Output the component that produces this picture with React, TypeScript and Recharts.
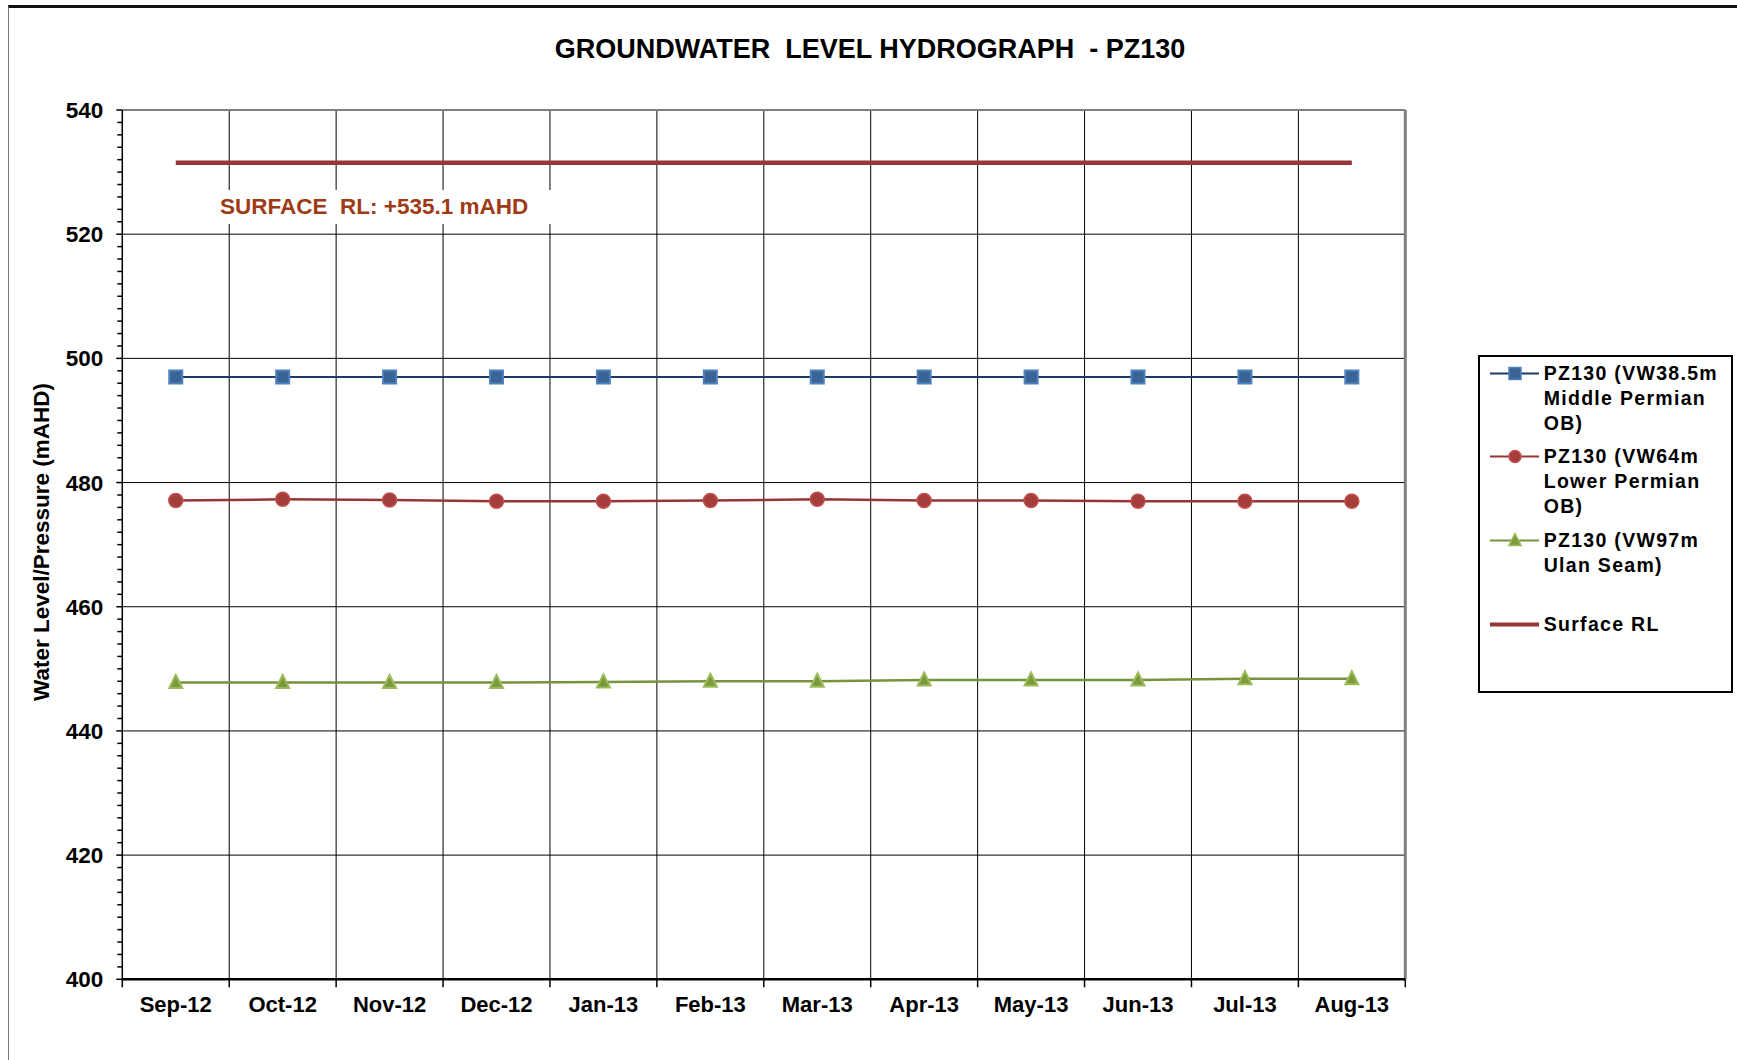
import React from 'react';
import { LineChart, Line, XAxis, YAxis, CartesianGrid, ReferenceLine, Legend } from 'recharts';

const FONT = '"Liberation Sans", Arial, Helvetica, sans-serif';

const months = ['Sep-12', 'Oct-12', 'Nov-12', 'Dec-12', 'Jan-13', 'Feb-13', 'Mar-13', 'Apr-13', 'May-13', 'Jun-13', 'Jul-13', 'Aug-13'];
const vw385 = [497.0, 497.0, 497.0, 497.0, 497.0, 497.0, 497.0, 497.0, 497.0, 497.0, 497.0, 497.0];
const vw64 = [477.1, 477.3, 477.2, 477.0, 477.0, 477.1, 477.3, 477.1, 477.1, 477.0, 477.0, 477.0];
const vw97 = [447.8, 447.8, 447.8, 447.8, 447.9, 448.0, 448.0, 448.2, 448.2, 448.2, 448.4, 448.4];
const surfaceRL = [531.5, 531.5, 531.5, 531.5, 531.5, 531.5, 531.5, 531.5, 531.5, 531.5, 531.5, 531.5];

const seriesNames = [
  'PZ130 (VW38.5m\nMiddle Permian\nOB)',
  'PZ130 (VW64m\nLower Permian\nOB)',
  'PZ130 (VW97m\nUlan Seam)',
  'Surface RL',
];

const yMinorTicks = Array.from({ length: 71 }, (_, i) => 400 + i * 2);
const yMajorGrid = [420, 440, 460, 480, 500, 520];
const xBoundaryGrid = [1, 2, 3, 4, 5, 6, 7, 8, 9, 10, 11];
const xTicks = Array.from({ length: 25 }, (_, i) => i * 0.5);

const data = months.map((m, i) => ({
  x: i + 0.5,
  month: m,
  vw385: vw385[i],
  vw64: vw64[i],
  vw97: vw97[i],
  surface: surfaceRL[i],
}));

const XTick = (props: any) => {
  const { x, y, payload } = props;
  const v = payload.value;
  if (Number.isInteger(v)) {
    return <line x1={x} x2={x} y1={y} y2={y + 8} stroke="#000" strokeWidth={1.5} />;
  }
  return (
    <text x={x} y={y + 33} textAnchor="middle" fontFamily={FONT} fontWeight="bold" fontSize={22} fill="#000">
      {months[Math.floor(v)]}
    </text>
  );
};

const YTick = (props: any) => {
  const { x, y, payload } = props;
  const v = payload.value;
  const major = v % 20 === 0;
  return (
    <g>
      <line x1={x - (major ? 6 : 5)} x2={x} y1={y} y2={y} stroke="#000" strokeWidth={1.5} />
      {major && (
        <text x={x - 19} y={y + 8} textAnchor="end" fontFamily={FONT} fontWeight="bold" fontSize={22.5} fill="#000">
          {v}
        </text>
      )}
    </g>
  );
};

const SquareDot = (props: any) => {
  const { cx, cy, index } = props;
  if (cx == null || cy == null) return null;
  return <rect key={`sq-${index}`} x={cx - 6.5} y={cy - 6.5} width={13} height={13} fill="#3A6496" stroke="#4F81BD" strokeWidth={2} />;
};
const CircleDot = (props: any) => {
  const { cx, cy, index } = props;
  if (cx == null || cy == null) return null;
  return <circle key={`ci-${index}`} cx={cx} cy={cy} r={7} fill="#A53E3B" stroke="#C0504D" strokeWidth={1.5} />;
};
const TriDot = (props: any) => {
  const { cx, cy, index } = props;
  if (cx == null || cy == null) return null;
  return (
    <polygon
      key={`tr-${index}`}
      points={`${cx},${cy - 7.5} ${cx + 6.5},${cy + 5.5} ${cx - 6.5},${cy + 5.5}`}
      fill="#7A9A3C"
      stroke="#9BBB59"
      strokeWidth={2}
    />
  );
};

const legendTops = [4, 87, 171, 255];

const LegendMarker = ({ dataKey, color }: { dataKey: string; color: string }) => {
  return (
    <svg width={54} height={25} style={{ display: 'block', flex: 'none' }}>
      <line x1={0} x2={49} y1={12.5} y2={12.5} stroke={color} strokeWidth={dataKey === 'surface' ? 4 : 2} />
      {dataKey === 'vw385' && <rect x={19} y={6.5} width={12} height={12} fill="#3A6496" stroke="#4F81BD" strokeWidth={1.5} />}
      {dataKey === 'vw64' && <circle cx={25} cy={12.5} r={6} fill="#A53E3B" stroke="#C0504D" strokeWidth={1.5} />}
      {dataKey === 'vw97' && <polygon points="25,5.5 31,17.5 19,17.5" fill="#7A9A3C" stroke="#9BBB59" strokeWidth={1.5} />}
    </svg>
  );
};

const renderLegend = (props: any) => {
  const payload = props.payload || [];
  return (
    <div
      style={{
        position: 'relative',
        width: 255,
        height: 338,
        border: '2px solid #000',
        boxSizing: 'border-box',
        background: '#fff',
        fontFamily: FONT,
      }}
    >
      {payload.map((entry: any, i: number) => (
        <div key={i} style={{ position: 'absolute', left: 10, top: legendTops[i], display: 'flex', alignItems: 'flex-start' }}>
          <LegendMarker dataKey={String(entry.dataKey)} color={entry.color} />
          <div style={{ whiteSpace: 'pre', fontSize: 19.5, fontWeight: 'bold', lineHeight: '25px', letterSpacing: 1.3, color: '#000' }}>
            {entry.value}
          </div>
        </div>
      ))}
    </div>
  );
};

export default function App() {
  return (
    <div style={{ position: 'absolute', left: 0, top: 0, width: 1737, height: 1060, background: '#fff', overflow: 'hidden' }}>
      <LineChart
        width={1737}
        height={1060}
        data={data}
        margin={{ top: 110, right: 331.7, bottom: 0.7, left: 62.3 }}
      >
        <CartesianGrid
          stroke="#000"
          strokeWidth={1}
          horizontalValues={yMajorGrid}
          verticalValues={xBoundaryGrid}
        />
        <XAxis
          dataKey="x"
          type="number"
          domain={[0, 12]}
          ticks={xTicks}
          interval={0}
          height={80}
          tickSize={0}
          tickMargin={0}
          tickLine={false}
          axisLine={{ stroke: '#000', strokeWidth: 2.5 }}
          tick={<XTick />}
        />
        <YAxis
          type="number"
          domain={[400, 540]}
          ticks={yMinorTicks}
          interval={0}
          width={60}
          tickSize={0}
          tickMargin={0}
          tickLine={false}
          axisLine={{ stroke: '#000', strokeWidth: 1.5 }}
          tick={<YTick />}
        />
        <ReferenceLine y={540} stroke="#808080" strokeWidth={2} />
        <ReferenceLine x={12} stroke="#808080" strokeWidth={3} />
        <Line
          dataKey="vw385"
          name={seriesNames[0]}
          stroke="#1F3A64"
          strokeWidth={2}
          dot={<SquareDot />}
          isAnimationActive={false}
        />
        <Line
          dataKey="vw64"
          name={seriesNames[1]}
          stroke="#953735"
          strokeWidth={2.5}
          dot={<CircleDot />}
          isAnimationActive={false}
        />
        <Line
          dataKey="vw97"
          name={seriesNames[2]}
          stroke="#77933C"
          strokeWidth={2.5}
          dot={<TriDot />}
          isAnimationActive={false}
        />
        <Line
          dataKey="surface"
          name={seriesNames[3]}
          stroke="#953735"
          strokeWidth={4.5}
          dot={false}
          isAnimationActive={false}
        />
        <Legend
          layout="vertical"
          align="center"
          verticalAlign="middle"
          content={renderLegend}
          wrapperStyle={{ position: 'absolute', left: 1477.7, top: 355, width: 255, height: 338 }}
        />
      </LineChart>

      <div
        style={{
          position: 'absolute',
          left: 8,
          top: 5,
          width: 1729,
          height: 1055,
          borderTop: '3px solid #111',
          borderLeft: '1.5px solid #777',
          boxSizing: 'border-box',
          pointerEvents: 'none',
        }}
      />

      <div
        style={{
          position: 'absolute',
          left: 0,
          top: 35.5,
          width: 1740,
          textAlign: 'center',
          fontFamily: FONT,
          fontWeight: 'bold',
          fontSize: 27,
          lineHeight: '27px',
          whiteSpace: 'pre',
          color: '#000',
        }}
      >
        {'GROUNDWATER  LEVEL HYDROGRAPH  - PZ130'}
      </div>

      <div
        style={{
          position: 'absolute',
          left: 42,
          top: 542,
          transform: 'translate(-50%, -50%) rotate(-90deg)',
          whiteSpace: 'nowrap',
          fontFamily: FONT,
          fontWeight: 'bold',
          fontSize: 22.5,
          lineHeight: '24px',
          color: '#000',
        }}
      >
        Water Level/Pressure (mAHD)
      </div>

      <div
        style={{
          position: 'absolute',
          left: 209,
          top: 190,
          width: 345,
          height: 34,
          background: '#fff',
          paddingLeft: 11,
          boxSizing: 'border-box',
          fontFamily: FONT,
          fontWeight: 'bold',
          fontSize: 22.5,
          lineHeight: '34px',
          whiteSpace: 'pre',
          color: '#9E3B16',
        }}
      >
        {'SURFACE  RL: +535.1 mAHD'}
      </div>
    </div>
  );
}
